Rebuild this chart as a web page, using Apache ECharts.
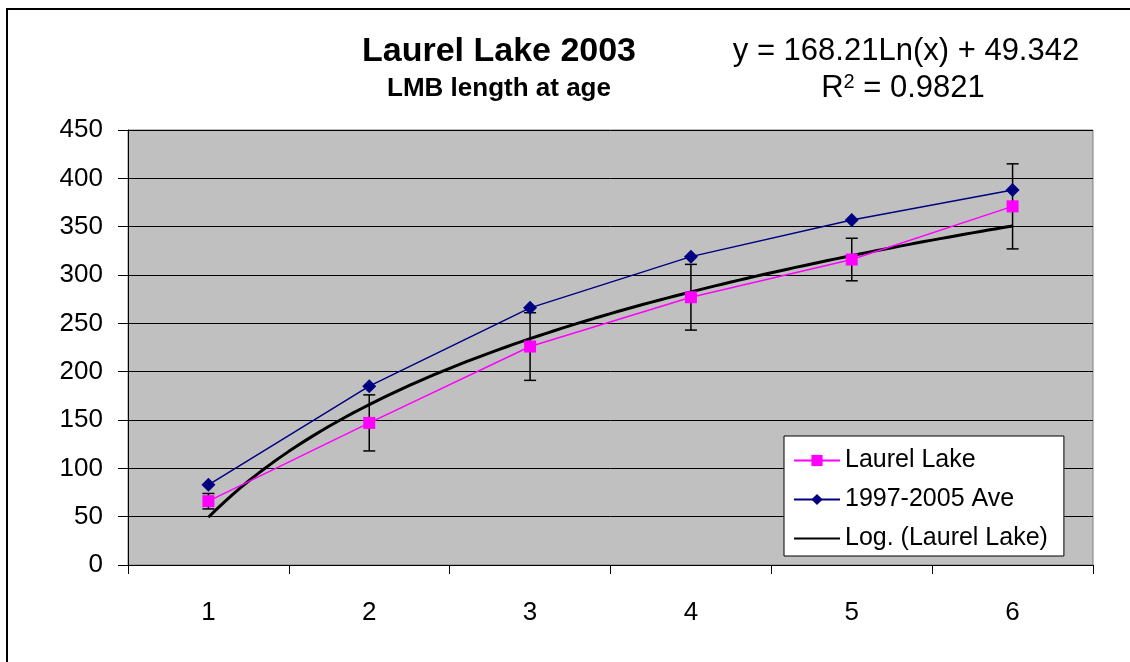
<!DOCTYPE html>
<html>
<head>
<meta charset="utf-8">
<title>Laurel Lake 2003 – LMB length at age</title>
<script src="https://cdn.jsdelivr.net/npm/echarts@6/dist/echarts.min.js"></script>
<style>
  html, body { margin: 0; padding: 0; background: #ffffff; }
  #chart { width: 1130px; height: 662px; }
</style>
</head>
<body>
<div id="chart"></div>
<script>
// Age classes (years) shown on the x axis
const ages = [1, 2, 3, 4, 5, 6];
const ageLabels = ['1', '2', '3', '4', '5', '6'];

// Mean length at age (mm), Laurel Lake 2003
const laurelLake = [66, 147, 226, 277, 316, 371];
// Half-width of the error bar at each age (mm)
const laurelLakeErr = [8, 29, 35, 34, 22, 44];

// 1997-2005 average length at age (mm)
const average9705 = [83, 185, 266, 319, 357, 388];

// Logarithmic trend fitted to Laurel Lake: y = a*ln(x) + b
const trendA = 168.21;
const trendB = 49.342;
const trendR2 = 0.9821;

// Y axis ticks
const yTicks = { min: 0, max: 450, step: 50 };

const FONT = '"Liberation Sans", Arial, sans-serif';

const laurelPoints = ages.map((a, i) => [a, laurelLake[i]]);
const averagePoints = ages.map((a, i) => [a, average9705[i]]);
const errPoints = ages.map((a, i) => [a, laurelLake[i] - laurelLakeErr[i], laurelLake[i] + laurelLakeErr[i]]);

// Sample the fitted curve across the age range
const trendPoints = [];
for (let k = 0; k <= 100; k++) {
  const x = ages[0] + (ages[ages.length - 1] - ages[0]) * k / 100;
  trendPoints.push([x, trendA * Math.log(x) + trendB]);
}

function renderErrorBar(params, api) {
  const x = api.value(0);
  const top = api.coord([x, api.value(2)]);
  const bot = api.coord([x, api.value(1)]);
  const half = 6;
  const style = { stroke: '#000000', lineWidth: 1.5 };
  return {
    type: 'group',
    children: [
      { type: 'line', shape: { x1: top[0], y1: top[1], x2: bot[0], y2: bot[1] }, style },
      { type: 'line', shape: { x1: top[0] - half, y1: top[1], x2: top[0] + half, y2: top[1] }, style },
      { type: 'line', shape: { x1: bot[0] - half, y1: bot[1], x2: bot[0] + half, y2: bot[1] }, style }
    ]
  };
}

const chart = echarts.init(document.getElementById('chart'), null, { renderer: 'canvas' });

chart.setOption({
  animation: false,
  backgroundColor: '#ffffff',
  textStyle: { fontFamily: FONT, color: '#000000' },
  title: [
    {
      text: 'Laurel Lake 2003',
      subtext: 'LMB length at age',
      left: 494,
      top: 30,
      textAlign: 'center',
      itemGap: 7,
      textStyle: { fontFamily: FONT, fontSize: 34, fontWeight: 'bold', color: '#000000' },
      subtextStyle: { fontFamily: FONT, fontSize: 26, fontWeight: 'bold', color: '#000000' }
    }
  ],
  graphic: [
    {
      type: 'rect',
      z: -1,
      silent: true,
      shape: { x: 7, y: 9, width: 1300, height: 800 },
      style: { fill: null, stroke: '#000000', lineWidth: 2 }
    },
    {
      type: 'text',
      silent: true,
      x: 906,
      y: 51,
      style: {
        text: 'y = ' + trendA.toFixed(2) + 'Ln(x) + ' + trendB.toFixed(3),
        align: 'center',
        verticalAlign: 'middle',
        font: '31px ' + FONT,
        fill: '#000000'
      }
    },
    {
      type: 'text',
      silent: true,
      x: 903,
      y: 88,
      style: {
        text: '{r|R}{sup|2}{r| = ' + trendR2.toFixed(4) + '}',
        align: 'center',
        verticalAlign: 'middle',
        rich: {
          r: { fontFamily: FONT, fontSize: 31, color: '#000000', verticalAlign: 'bottom' },
          sup: { fontFamily: FONT, fontSize: 20, color: '#000000', verticalAlign: 'top', padding: [0, 0, 12, 0] }
        }
      }
    }
  ],
  legend: {
    orient: 'vertical',
    left: 784,
    top: 436,
    data: [
      'Laurel Lake',
      '1997-2005 Ave',
      { name: 'Log. (Laurel Lake)', itemStyle: { opacity: 0 } }
    ],
    backgroundColor: '#ffffff',
    borderColor: '#000000',
    borderWidth: 1,
    borderRadius: 0,
    padding: [12, 16, 5, 9],
    itemWidth: 46,
    itemHeight: 14,
    itemGap: 14,
    textStyle: { fontFamily: FONT, fontSize: 25, color: '#000000' }
  },
  grid: {
    left: 128,
    top: 130,
    width: 965,
    height: 435,
    show: true,
    backgroundColor: '#c0c0c0',
    borderColor: '#808080',
    borderWidth: 1
  },
  xAxis: [
    {
      type: 'category',
      data: ageLabels,
      boundaryGap: true,
      axisLine: { lineStyle: { color: '#000000', width: 1 } },
      axisTick: { show: true, length: 9, lineStyle: { color: '#000000' } },
      axisLabel: { fontFamily: FONT, fontSize: 26, color: '#000000', margin: 35 },
      splitLine: { show: false }
    },
    {
      type: 'value',
      min: ages[0] - 0.5,
      max: ages[ages.length - 1] + 0.5,
      show: false,
      splitLine: { show: false }
    }
  ],
  yAxis: {
    type: 'value',
    min: yTicks.min,
    max: yTicks.max,
    interval: yTicks.step,
    axisLine: { show: true, lineStyle: { color: '#000000', width: 1 } },
    axisTick: { show: true, length: 10, lineStyle: { color: '#000000' } },
    axisLabel: { fontFamily: FONT, fontSize: 26, color: '#000000', margin: 25 },
    splitLine: { show: true, lineStyle: { color: '#000000', width: 1 } }
  },
  series: [
    {
      name: 'Log. (Laurel Lake)',
      type: 'line',
      xAxisIndex: 1,
      data: trendPoints,
      showSymbol: false,
      symbol: 'none',
      lineStyle: { color: '#000000', width: 3 },
      itemStyle: { color: '#000000' },
      z: 2
    },
    {
      name: 'error',
      type: 'custom',
      xAxisIndex: 1,
      data: errPoints,
      renderItem: renderErrorBar,
      z: 3
    },
    {
      name: 'Laurel Lake',
      type: 'line',
      xAxisIndex: 1,
      data: laurelPoints,
      symbol: 'rect',
      symbolSize: 12,
      lineStyle: { color: '#ff00ff', width: 1.5 },
      itemStyle: { color: '#ff00ff' },
      z: 4
    },
    {
      name: '1997-2005 Ave',
      type: 'line',
      xAxisIndex: 1,
      data: averagePoints,
      symbol: 'diamond',
      symbolSize: 14,
      lineStyle: { color: '#000080', width: 1.5 },
      itemStyle: { color: '#000080' },
      z: 5
    }
  ]
});
</script>
</body>
</html>
